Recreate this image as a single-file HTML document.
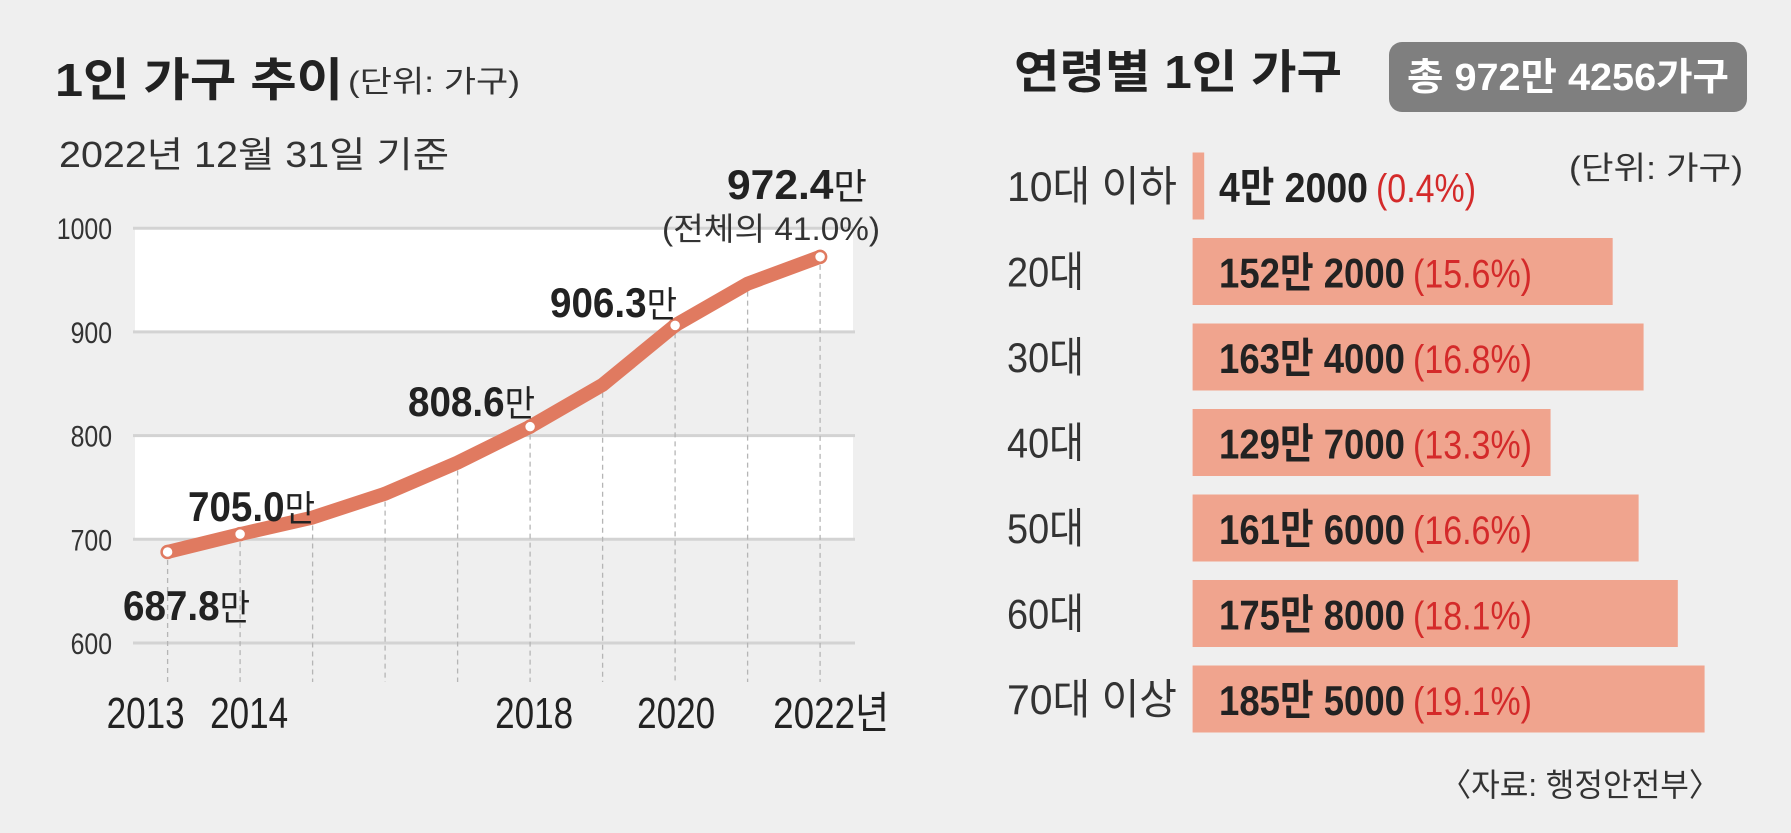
<!DOCTYPE html>
<html><head><meta charset="utf-8"><style>
html,body{margin:0;padding:0;background:#efefef;}
svg{display:block;}
text{font-family:"Liberation Sans Narrow","Liberation Sans","Noto Sans CJK KR",sans-serif;}
</style></head><body>
<svg id="chart" width="1791" height="833" viewBox="0 0 1791 833" xmlns="http://www.w3.org/2000/svg">
<rect x="0" y="0" width="1791" height="833" fill="#efefef"/>
<g id="left">
<text x="55" y="96" font-size="46" font-weight="bold" fill="#222" textLength="288" lengthAdjust="spacingAndGlyphs">1인 가구 추이</text>
<text x="348" y="92" font-size="30" fill="#333" textLength="172" lengthAdjust="spacingAndGlyphs">(단위: 가구)</text>
<text x="59" y="167" font-size="36" fill="#333" textLength="390" lengthAdjust="spacingAndGlyphs">2022년 12월 31일 기준</text>
<g id="bands"></g><g id="grid"></g><g id="yticks"></g><g id="vlines"></g><g id="line"></g><g id="labels"></g><g id="xticks"></g>
</g>
<g id="right">
<text x="1014" y="88" font-size="46" font-weight="bold" fill="#222" textLength="328" lengthAdjust="spacingAndGlyphs">연령별 1인 가구</text>
<rect x="1389" y="42" width="358" height="70" rx="13" fill="#7f7f7f"/>
<text x="1407" y="90" font-size="38" font-weight="bold" fill="#fff" textLength="322" lengthAdjust="spacingAndGlyphs">총 972만 4256가구</text>
<text x="1569" y="179" font-size="32" fill="#333" textLength="174" lengthAdjust="spacingAndGlyphs">(단위: 가구)</text>
<g id="bars"></g>
<text x="1440" y="796" font-size="32" fill="#333" textLength="280" lengthAdjust="spacingAndGlyphs">〈자료: 행정안전부〉</text>
</g>
</svg>
<script>
const years=[2013,2014,2015,2016,2017,2018,2019,2020,2021,2022];
const values=[687.8,705.0,721,744,774,808.6,849,906.3,946.5,972.4];
const yTicks=[600,700,800,900,1000];
const xTickLabels=["2013","2014","","","","2018","","2020","","2022년"];
const labelTexts=["687.8","705.0","","","","808.6","","906.3","","972.4"];
const ageCats=["10대 이하","20대","30대","40대","50대","60대","70대 이상"];
const ageVals=[4.2,152.2,163.4,129.7,161.6,175.8,185.5];
const ageTexts=["4만 2000","152만 2000","163만 4000","129만 7000","161만 6000","175만 8000","185만 5000"];
const agePcts=["(0.4%)","(15.6%)","(16.8%)","(13.3%)","(16.6%)","(18.1%)","(19.1%)"];

const NS="http://www.w3.org/2000/svg";
function mk(tag,attrs,parent,txt){const e=document.createElementNS(NS,tag);for(const k in attrs)e.setAttribute(k,attrs[k]);if(txt!==undefined)e.textContent=txt;parent.appendChild(e);return e;}
const X=yr=>167.6+(yr-2013)*72.5;
const Y=v=>228.2+(1000-v)*1.037;
const $=id=>document.getElementById(id);
const LA='spacingAndGlyphs';

[[900,1000],[700,800]].forEach(b=>{
 const r=mk('rect',{x:135,y:Y(b[1]),width:718,height:Y(b[0])-Y(b[1]),fill:'#ffffff'},$('bands'));
 
 
});
yTicks.forEach(t=>{
 const l=mk('line',{x1:133,x2:855,y1:Y(t),y2:Y(t),stroke:'#d3d3d3','stroke-width':3},$('grid'));
 
 
 const w=String(t).length*13.8;
 const tx=mk('text',{x:112-w,y:Y(t)+11,'font-size':30,fill:'#333',textLength:w,lengthAdjust:LA},$('yticks'),String(t));
 
 
});
years.forEach((yr,i)=>{
 const l=mk('line',{x1:X(yr),x2:X(yr),y1:Y(values[i])+8,y2:682,stroke:'#b5b5b5','stroke-width':1.3,'stroke-dasharray':'5,4'},$('vlines'));
 
 
 if(xTickLabels[i]){
  const isLast=i===9;
  const w=isLast?116:78;
  const cx=X(yr)+(i===0?-22:i===1?9:i===5?4:i===7?1:0);
  const sx=isLast?X(yr)-47:cx-w/2;
  const tx=mk('text',{x:sx,y:728,'font-size':44,fill:'#222',textLength:w,lengthAdjust:LA},$('xticks'),xTickLabels[i]);
  
  
 }
});
const pts=years.map((yr,i)=>X(yr)+','+Y(values[i])).join(' ');
const pl=mk('polyline',{points:pts,fill:'none',stroke:'#e07a60','stroke-width':14,'stroke-linejoin':'round','stroke-linecap':'round'},$('line'));


const labelPos={0:[123,620],1:[188,521],5:[408,416],7:[550,317],9:[727,199]};
years.forEach((yr,i)=>{
 if(!labelTexts[i])return;
 const c=mk('circle',{cx:X(yr),cy:Y(values[i]),r:6,fill:'#fff',stroke:'#e07a60','stroke-width':2.5},$('line'));
 
 
 const p=labelPos[i];
 const t=mk('text',{x:p[0],y:p[1],'font-size':42,fill:'#222',textLength:i===9?140:127,lengthAdjust:LA},$('labels'));
 
 
 mk('tspan',{'font-weight':'bold'},t,labelTexts[i]);
 mk('tspan',{'font-size':36},t,'만');
});
const note=mk('text',{x:662,y:240,'font-size':32,fill:'#333',textLength:218,lengthAdjust:LA},$('labels'),'(전체의 41.0%)');



const BX=1192.6, PX=2.76;
ageCats.forEach((c,i)=>{
 const cy=186+i*85.5;
 const g=mk('g',{},$('bars'));
 
 
 const lw=c.length>3?170:77;
 const lab=mk('text',{x:1007,y:cy+15,'font-size':42,fill:'#333',textLength:lw,lengthAdjust:LA},g,c);
 
 
 const r=mk('rect',{x:BX,y:cy-33.5,width:ageVals[i]*PX,height:67,fill:'#f0a48e'},g);
 
 
 const vw=i===0?149:186;
 const vt=mk('text',{x:1219,y:cy+16,'font-size':42,'font-weight':'bold',fill:'#222',textLength:vw,lengthAdjust:LA},g,ageTexts[i]);
 
 
 const pw=i===0?100:119;
 const pt=mk('text',{x:1219+vw+8,y:cy+16,'font-size':40,fill:'#d42a2a',textLength:pw,lengthAdjust:LA},g,agePcts[i]);
 
 
});
</script>
</body></html>
